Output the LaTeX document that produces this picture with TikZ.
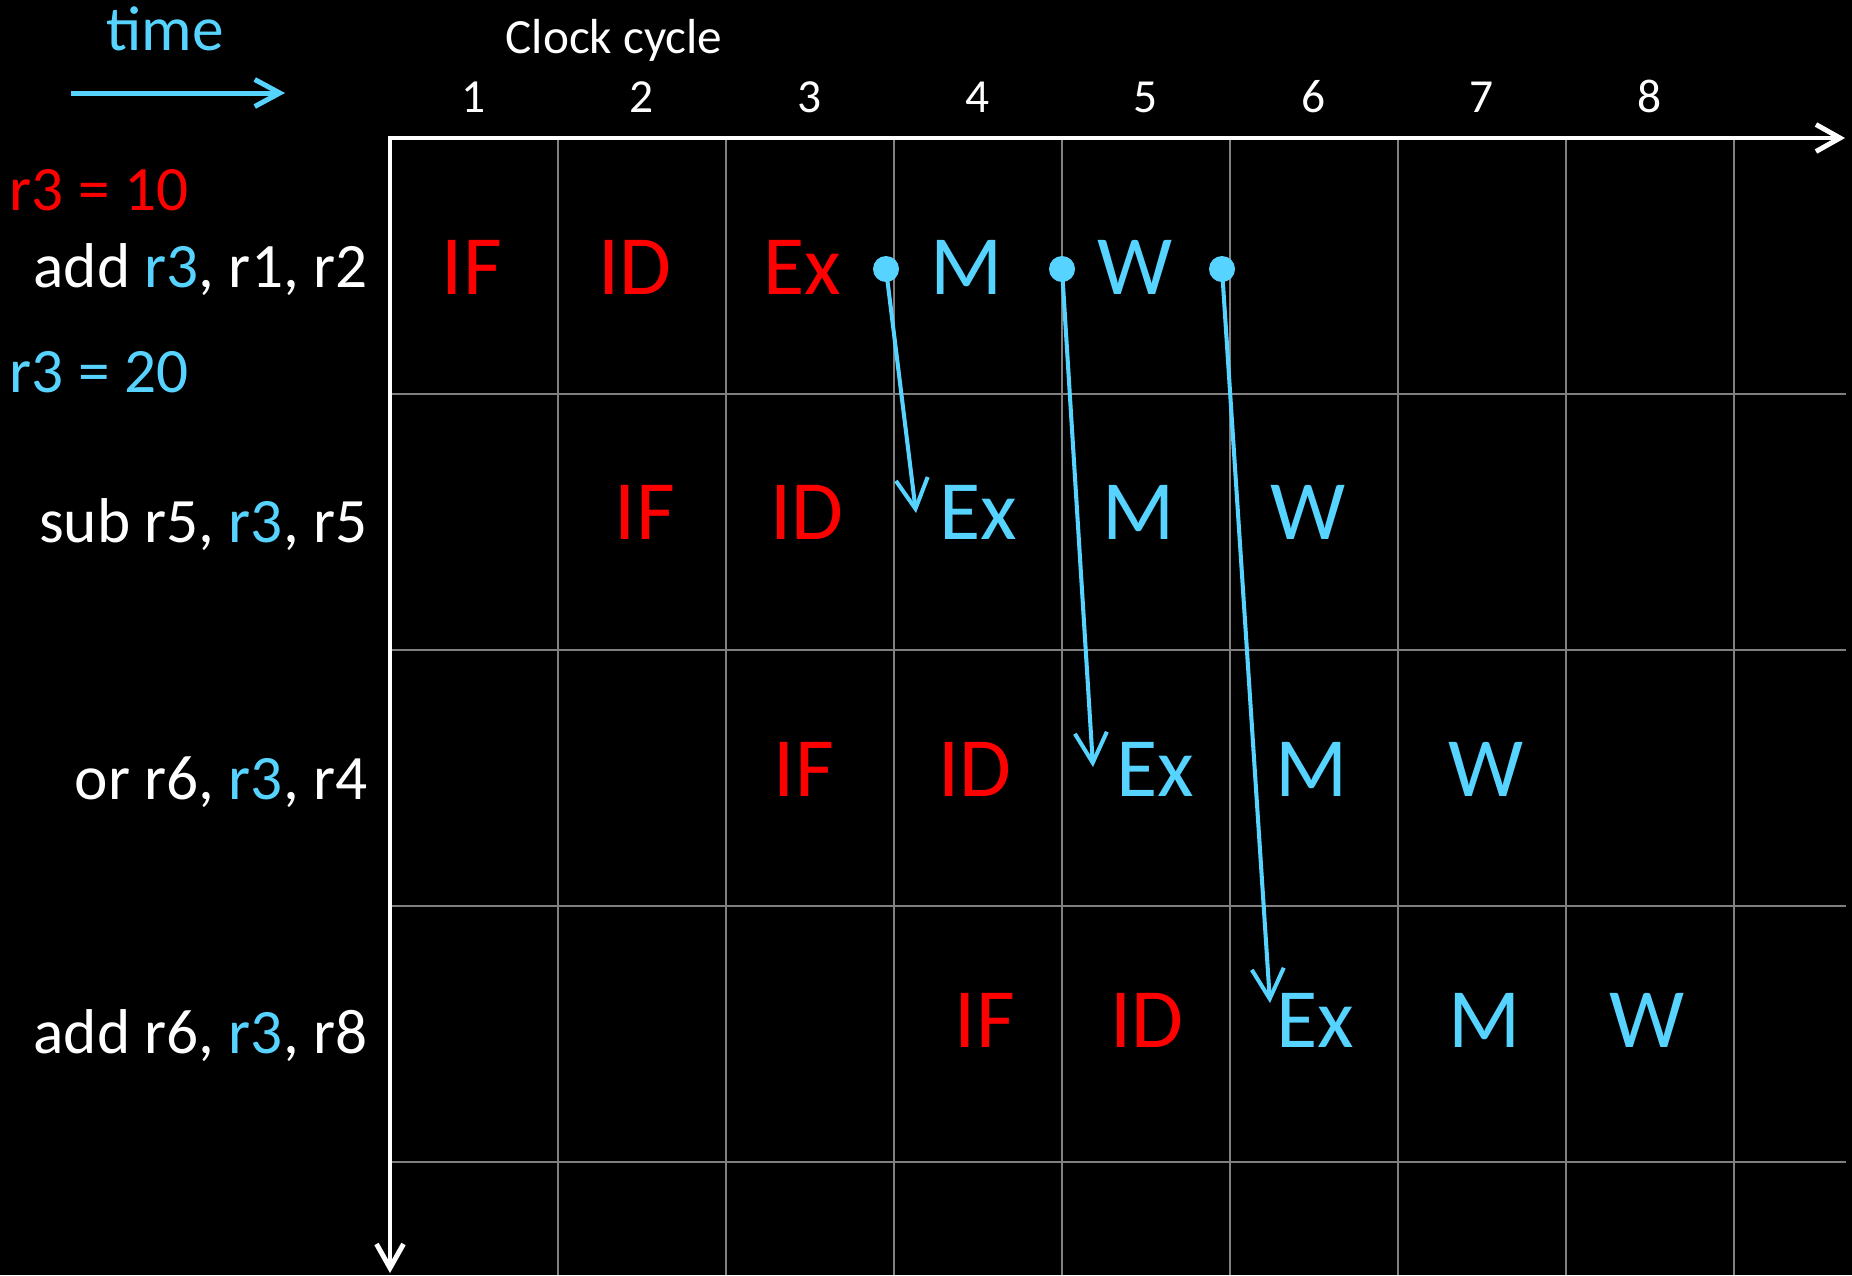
\documentclass[tikz,border=0pt]{standalone}
\usepackage{fontspec}
\setmainfont{Carlito}
\usetikzlibrary{arrows.meta}
\definecolor{cy}{RGB}{87,211,255}
\definecolor{rd}{RGB}{255,0,0}
\definecolor{gridgray}{RGB}{128,128,128}
\tikzset{
  stage/.style={inner sep=0pt, anchor=base, font=\fontsize{24pt}{28pt}\selectfont},
  redstage/.style={stage, text=rd},
  bluestage/.style={stage, text=cy},
  instr/.style={inner sep=0pt, anchor=base east, text=white, font=\fontsize{18pt}{22pt}\selectfont},
  val/.style={inner sep=0pt, anchor=base west, font=\fontsize{18pt}{22pt}\selectfont},
  colnum/.style={inner sep=0pt, anchor=base, text=white, font=\fontsize{13.5pt}{16pt}\selectfont},
  gridline/.style={draw=gridgray, line width=0.7pt},
  axisline/.style={draw=white, line width=1.4pt, line cap=rect, -{Straight Barb[length=0.24cm, width=0.27cm]}},
  fwd/.style={draw=cy, line width=1.15pt, -{Straight Barb[length=0.3cm, width=0.32cm]}},
  dotnode/.style={circle, fill=cy, inner sep=0pt, minimum size=0.26cm},
}
\begin{document}
\begin{tikzpicture}[x=0.01cm, y=-0.01cm]
  \fill[black] (0,0) rectangle (1852,1275);
  \useasboundingbox (0,0) rectangle (1852,1275);

  % grid
  \foreach \k in {0,...,7} {
    \draw[gridline] ({558+168*\k},138) -- ({558+168*\k},1275);
  }
  \foreach \yy in {394,650,906,1162} {
    \draw[gridline] (390,\yy) -- (1846,\yy);
  }

  % axes
  \draw[axisline] (390,138) -- (1845,138);
  \draw[axisline] (390,138) -- (390,1273);

  % time arrow
  \node[inner sep=0pt, anchor=base, text=cy, font=\fontsize{18pt}{22pt}\selectfont] (time) at (165,50) {time};
  \draw[draw=cy, line width=1.42pt, -{Straight Barb[length=0.25cm, width=0.27cm]}] (71,93) -- (285,93);

  % clock cycle header
  \node[inner sep=0pt, anchor=base, text=white, font=\fontsize{14pt}{17pt}\selectfont] (clock) at (614,53) {Clock cycle};
  \foreach \k in {1,...,8} {
    \node[colnum] (c\k) at ({474+168*(\k-1)},112) {\k};
  }

  % left labels
  \node[val, text=rd] (v10) at (9,210) {r3 = 10};
  \node[instr] (i1) at (368,287) {add \textcolor{cy}{r3}, r1, r2};
  \node[val, text=cy] (v20) at (9,392) {r3 = 20};
  \node[instr] (i2) at (368,542) {sub r5, \textcolor{cy}{r3}, r5};
  \node[instr] (i3) at (368,799) {or r6, \textcolor{cy}{r3}, r4};
  \node[instr] (i4) at (368,1053) {add r6, \textcolor{cy}{r3}, r8};

  % row 1
  \node[redstage] (if1) at (472,294) {IF};
  \node[redstage] (id1) at (635,294) {ID};
  \node[redstage] (ex1) at (802,294) {Ex};
  \node[bluestage] (m1) at (967,294) {M};
  \node[bluestage] (w1) at (1135,294) {W};
  % row 2
  \node[redstage] (if2) at (645,539) {IF};
  \node[redstage] (id2) at (807,539) {ID};
  \node[bluestage] (ex2) at (978,539) {Ex};
  \node[bluestage] (m2) at (1139,539) {M};
  \node[bluestage] (w2) at (1308,539) {W};
  % row 3
  \node[redstage] (if3) at (804,796) {IF};
  \node[redstage] (id3) at (975,796) {ID};
  \node[bluestage] (ex3) at (1155,796) {Ex};
  \node[bluestage] (m3) at (1312,796) {M};
  \node[bluestage] (w3) at (1486,796) {W};
  % row 4
  \node[redstage] (if4) at (985,1047) {IF};
  \node[redstage] (id4) at (1147,1047) {ID};
  \node[bluestage] (ex4) at (1315,1047) {Ex};
  \node[bluestage] (m4) at (1485,1047) {M};
  \node[bluestage] (w4) at (1647,1047) {W};

  % forwarding dots and arrows
  \node[dotnode] (d1) at (886,269) {};
  \node[dotnode] (d2) at (1062,269) {};
  \node[dotnode] (d3) at (1222,269) {};
  \coordinate (t1) at (916,513);
  \coordinate (t2) at (1093,767);
  \coordinate (t3) at (1270,1003);
  \draw[fwd] (d1.center) -- (t1);
  \draw[fwd] (d2.center) -- (t2);
  \draw[fwd] (d3.center) -- (t3);
\end{tikzpicture}
\end{document}
